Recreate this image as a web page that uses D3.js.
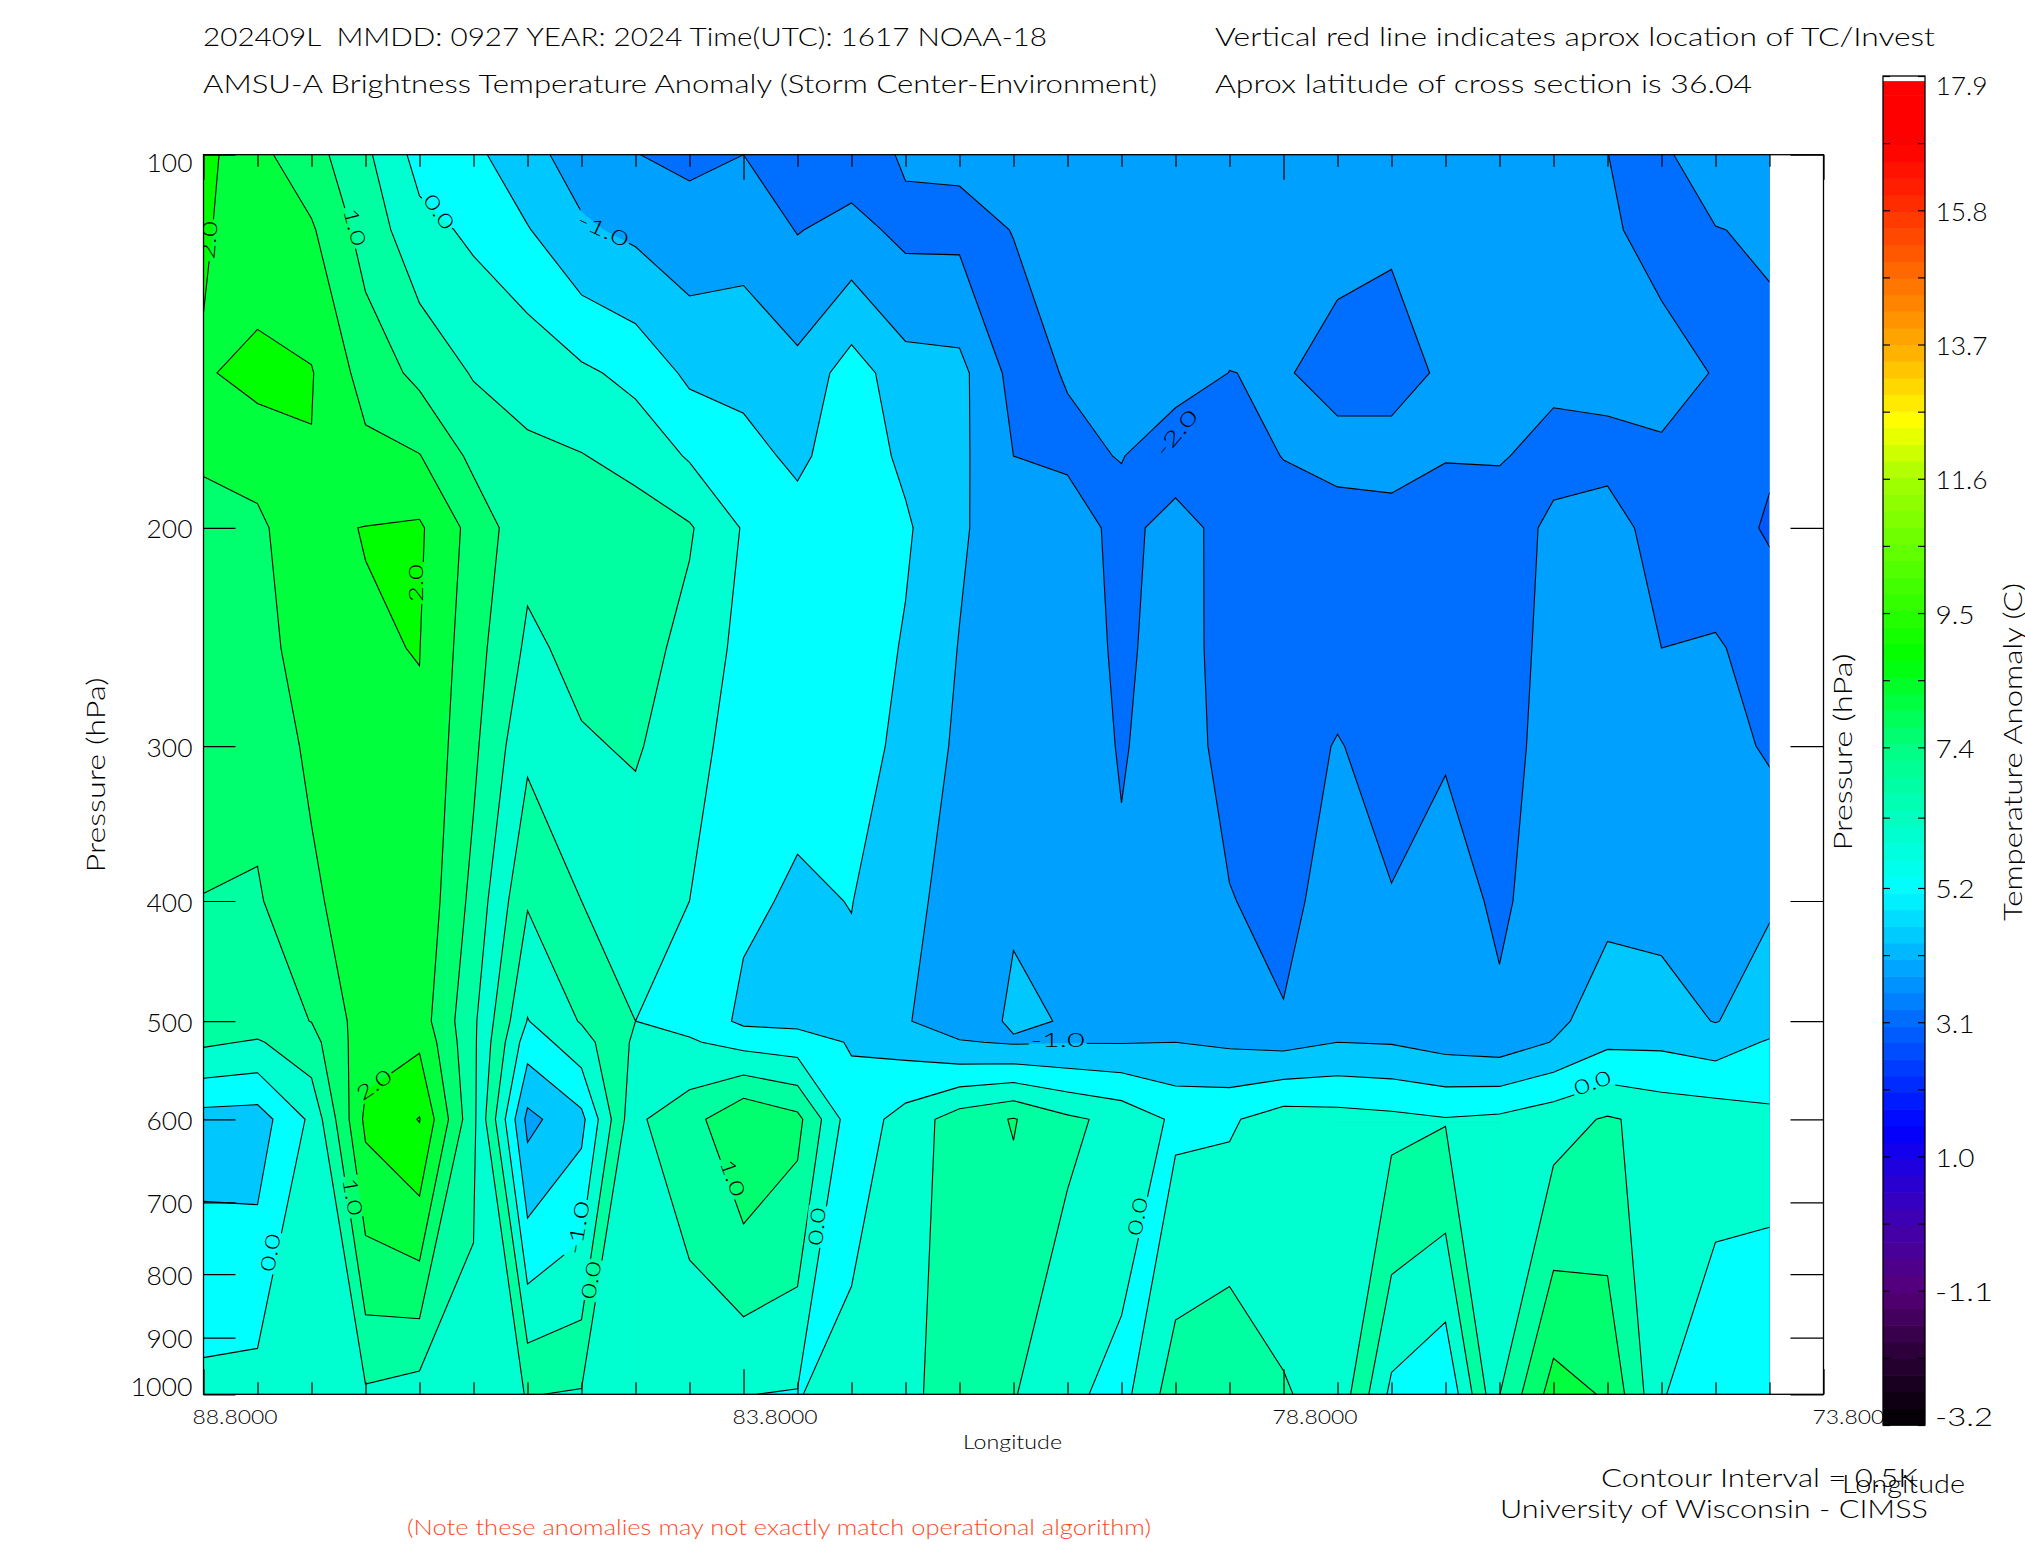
<!DOCTYPE html>
<html>
<head>
<meta charset="utf-8">
<style>
html,body{margin:0;padding:0;background:#fff;overflow:hidden}
svg{display:block}
text{font-family:"Lato","Roboto","Liberation Sans",sans-serif;font-weight:300;fill:#000}
</style>
<script src="https://cdnjs.cloudflare.com/ajax/libs/d3/7.8.5/d3.min.js"></script>
</head>
<body>
<svg id="c" width="2025" height="1550"></svg>
<script>
// ---------- data ----------
const longitudes = [88.8,88.3,87.8,87.3,86.8,86.3,85.8,85.3,84.8,84.3,83.8,83.3,82.8,82.3,81.8,81.3,80.8,80.3,79.8,79.3,78.8,78.3,77.8,77.3,76.8,76.3,75.8,75.3,74.8,74.3];
const pressures  = [100,115,150,175,200,250,300,400,500,520,600,1000];
// anomaly (K) : one list per longitude, top (100 hPa) to bottom (1000 hPa)
const anomaly = [
 [2.15,2.06,1.95,1.53,1.42,1.28,1.17,.99,.93,.58,-.71,.14],
 [1.63,1.7,2.15,1.72,1.38,1.27,1.15,.95,.78,.45,-.74,.19],
 [1.19,1.56,2.03,1.98,1.94,1.8,1.6,1.39,1.01,.82,.10,.3],
 [.6,.8,1.3,1.63,2.01,1.97,1.93,1.85,1.75,1.82,2.11,.42],
 [-.18,.16,.87,1.52,2.07,2.01,1.95,1.9,1.75,1.92,2.52,.26],
 [-.38,-.09,.46,.88,1.32,1.2,1.1,.85,.6,.6,.62,.31],
 [-.85,-.47,.38,.56,.65,.41,.1,-.46,-1.02,-1.27,-2.14,-.02],
 [-1.21,-.93,.09,.52,.85,.63,.45,0,-.46,-.7,-1.64,.045],
 [-1.49,-1.1,-.14,.33,.75,.7,.55,.2,0,.09,.42,.2],
 [-1.6,-1.3,-.6,-.05,.55,.35,.22,0,-.15,.05,.8,.13],
 [-1.5,-1.2,-.64,-.34,-.04,-.15,-.28,-.42,-.6,-.17,1.47,.01],
 [-1.75,-1.52,-.86,-.6,-.3,-.33,-.38,-.56,-.64,-.26,1.14,-.03],
 [-1.75,-1.35,-.26,-.22,-.2,-.18,-.2,-.49,-.6,-.54,-.3,.25],
 [-1.44,-1.62,-.8,-.6,-.43,-.55,-.68,-.78,-.96,-.7,.2,.4],
 [-1.42,-1.62,-.85,-.88,-.925,-1.02,-1.08,-1.3,-1.3,-.96,.75,.7],
 [-1.2,-1.49,-1.67,-1.5,-1.32,-1.25,-1.2,-1.05,-.92,-1.05,1.03,.53],
 [-1.3,-1.35,-1.47,-1.6,-1.2,-1.15,-1.12,-1.08,-1.03,-1.02,.6,.12],
 [-1.3,-1.33,-1.36,-1.48,-1.68,-1.62,-1.55,-1.4,-1.25,-1.02,.35,-.18],
 [-1.3,-1.3,-1.3,-1.8,-1.27,-1.22,-1.2,-1.15,-1.1,-1.0,-.09,.78],
 [-1.3,-1.25,-1.505,-1.65,-1.71,-1.75,-1.7,-1.47,-1.2,-1.08,-.066,.97],
 [-1.25,-1.25,-1.47,-1.49,-1.68,-1.72,-1.72,-1.7,-1.45,-1.15,.25,.53],
 [-1.2,-1.4,-1.62,-1.38,-1.67,-1.7,-1.47,-1.2,-1.1,-1.0,.2,.36],
 [-1.2,-1.46,-1.62,-1.38,-1.62,-1.75,-1.7,-1.47,-1.2,-1.03,.13,-1.125],
 [-1.2,-1.25,-1.45,-1.48,-1.7,-1.72,-1.55,-1.25,-1.15,-1.18,.03,-1.47],
 [-1.2,-1.22,-1.3,-1.47,-1.7,-1.8,-1.75,-1.6,-1.4,-1.25,.1,.49],
 [-1.25,-1.27,-1.42,-1.62,-1.42,-1.3,-1.25,-1.2,-1.1,-.98,.31,1.73],
 [-1.499,-1.45,-1.42,-1.58,-1.38,-1.3,-1.25,-1.1,-.78,-.6,.55,1.44],
 [-1.55,-1.62,-1.36,-1.56,-1.62,-1.5,-1.35,-1.15,-.8,-.6,.35,.05],
 [-1.33,-1.51,-1.52,-1.75,-1.8,-1.45,-1.32,-1.2,-1.02,-.74,.3,-.48],
 [-1.25,-1.46,-1.58,-1.95,-2.05,-1.7,-1.56,-1.05,-.75,-.45,.12,-.24]
];
const levels      = [-2,-1.5,-1,-.5,0,.5,1,1.5,2,2.5];
const bandColors  = ["#0058ff","#006eff","#00a0ff","#00c8ff","#00ffff","#00ffd0","#00ffa0","#00ff6e","#00ff3c","#00ff00","#00ff00"];
// closed lows are painted by the source plot with shifted colours
const lowColors   = ["#00a0ff","#00c8ff","#00ffff","#00ffd0","#00ffa0","#00ffd0","#00ffa0","#00ff6e","#00ff3c","#00ff00","#00ff00"];
const lowLons     = [[86.55,84.8],[78.3,76.8]];
const lowPres     = [[281,1000],[604,1000]];
const pressureTicks = [100,200,300,400,500,600,700,800,900,1000];
const axisLons    = [88.8,88.3,87.8,87.3,86.8,86.3,85.8,85.3,84.8,84.3,83.8,83.3,82.8,82.3,81.8,81.3,80.8,80.3,79.8,79.3,78.8,78.3,77.8,77.3,76.8,76.3,75.8,75.3,74.8,74.3,73.8];
const majorLons   = [88.8,83.8,78.8,73.8];
const labelText   = ["2.0","1.0","0.0","-1.0","-2.0","2.0","2.0","1.0","0.0","-1.0","0.0","1.0","0.0","-1.0","0.0","0.0"];
const labelLon    = [88.75,87.4,86.62,85.10,79.79,86.83,87.22,87.42,88.18,85.33,85.21,83.90,83.12,80.89,80.15,75.94];
const labelPres   = [117.2,114.4,111.2,115,167.7,221.6,562.7,692.8,768.7,734,808.8,669,732.3,517.8,718.7,560.8];
const labelAngle  = [-85,75,55,25,-50,-90,-35,80,-80,-80,-80,70,-85,0,-80,-20];
const barTicks    = [17.9,16.85,15.8,14.75,13.7,12.65,11.6,10.55,9.5,8.45,7.4,6.3,5.2,4.15,3.1,2.05,1.0,-.05,-1.1,-2.15,-3.2];
const barLabelled = [17.9,15.8,13.7,11.6,9.5,7.4,5.2,3.1,1.0,-1.1,-3.2];
const barStops    = [-3.2,-2.1,-1.1,0,1,1.44,3.1,5.2,7.4,8.8,11.6,12.5,13.7,15.8,16.8,17.82];
const barColors   = ["#000000","#2a0036","#560078","#4000b0","#1800e8","#0000ff","#0068ff","#00ffff","#00ff82","#00ff00","#a4ff00","#ffff00","#ffaa00","#ff3200","#ff0000","#ff0000"];

// ---------- scales ----------
const svg = d3.select("#c");
const x = d3.scaleLinear().domain([88.8,73.8]).range([203.5,1823.5]);
const y = d3.scaleLog().domain([100,1000]).range([154.7,1394.3]);
const colX = d3.scaleLinear().domain([0,longitudes.length-1]).range([x(longitudes[0]),x(longitudes[longitudes.length-1])]);
// values vary linearly in pressure between two listed levels
const rowP = d3.scaleLinear().domain(d3.range(pressures.length)).range(pressures);

// ---------- contours : grid padded by one cell so that the lines close outside the clip ----------
const nc = longitudes.length, nr = pressures.length;
const W = nc+2, H = nr+2, grid = new Array(W*H);
for(let j=0;j<H;j++)for(let i=0;i<W;i++){
  const c = Math.max(0,Math.min(nc-1,i-1)), r = Math.max(0,Math.min(nr-1,j-1));
  grid[j*W+i] = anomaly[c][r];
}
const gen = d3.contours().size([W,H]).smooth(true);
const px = d=>colX(d-1.5), py = d=>y(rowP(d-1.5));
const geo = d3.geoPath();
const contourD = level=>{
  const g = gen.contour(grid,level);
  return geo({type:"MultiPolygon",coordinates:g.coordinates.map(poly=>poly.map(ring=>ring.map(p=>[px(p[0]),py(p[1])])))});
};
const paths = levels.map(contourD);

const defs = svg.append("defs");
const dataL = x(longitudes[0]), dataR = x(longitudes[nc-1]);
defs.append("clipPath").attr("id","dataClip").append("rect")
  .attr("x",dataL).attr("y",y(100)).attr("width",dataR-dataL).attr("height",y(1000)-y(100));
lowLons.forEach((l,k)=>{
  defs.append("clipPath").attr("id","low"+k).append("rect")
   .attr("x",x(l[0])).attr("y",y(lowPres[k][0])).attr("width",x(l[1])-x(l[0])).attr("height",y(lowPres[k][1])-y(lowPres[k][0]));
});
const plot = svg.append("g").attr("clip-path","url(#dataClip)");
function paintBands(g,colors){
  g.append("rect").attr("x",dataL-5).attr("y",y(100)-5).attr("width",dataR-dataL+10).attr("height",y(1000)-y(100)+10).attr("fill",colors[0]);
  g.selectAll("path.band").data(levels).join("path").attr("class","band")
   .attr("d",(d,i)=>paths[i]).attr("fill",(d,i)=>colors[i+1]).attr("stroke",(d,i)=>colors[i+1]).attr("stroke-width",.4);
}
paintBands(plot.append("g"),bandColors);
lowLons.forEach((l,k)=>paintBands(plot.append("g").attr("clip-path",`url(#low${k})`),lowColors));

// label gaps cut out of the contour lines
const mask = defs.append("mask").attr("id","gaps").attr("maskUnits","userSpaceOnUse")
  .attr("x",0).attr("y",0).attr("width",2025).attr("height",1550);
mask.append("rect").attr("width",2025).attr("height",1550).attr("fill","#fff");
labelText.forEach((t,i)=>{
  const w = t.length>3?58:42;
  mask.append("rect").attr("x",-w/2).attr("y",-10).attr("width",w).attr("height",20).attr("fill","#000")
    .attr("transform",`translate(${x(labelLon[i])},${y(labelPres[i])}) rotate(${labelAngle[i]})`);
});
plot.append("g").attr("mask","url(#gaps)").selectAll("path.line").data(levels).join("path").attr("class","line")
  .attr("d",(d,i)=>paths[i]).attr("fill","none").attr("stroke","#000").attr("stroke-width",1.1);

plot.append("g").selectAll("text").data(labelText).join("text")
  .text(d=>d).attr("text-anchor","middle").attr("font-size",20)
  .attr("textLength",d=>d.length>3?54:38).attr("lengthAdjust","spacingAndGlyphs")
  .attr("transform",(d,i)=>`translate(${x(labelLon[i])},${y(labelPres[i])}) rotate(${labelAngle[i]}) translate(0,7)`);

// ---------- axes ----------
const fmtAxis = g=>{g.select(".domain").remove();g.selectAll("line").attr("stroke","#000").attr("stroke-width",1.2);g.selectAll("text").attr("fill","#000").attr("font-family",null);};
svg.append("g").attr("transform",`translate(${x(88.8)},0)`)
 .call(d3.axisLeft(y).tickValues(pressureTicks).tickFormat(d3.format("d")).tickSize(-32).tickPadding(0))
 .call(fmtAxis)
 .call(g=>g.selectAll("text").attr("x",-11).attr("font-size",25).attr("text-anchor","end")
    .attr("dy",d=>d===100?"17":d===1000?"1":"10").attr("textLength",d=>d===1000?62:46).attr("lengthAdjust","spacingAndGlyphs"));
svg.append("g").attr("transform",`translate(${x(73.8)},0)`)
 .call(d3.axisRight(y).tickValues(pressureTicks).tickFormat("").tickSize(-33)).call(fmtAxis);
svg.append("g").attr("transform",`translate(0,${y(1000)})`)
 .call(d3.axisBottom(x).tickValues(axisLons).tickFormat(d=>majorLons.includes(d)?d.toFixed(4):"").tickSize(-12))
 .call(fmtAxis)
 .call(g=>g.selectAll(".tick").filter(d=>majorLons.includes(d)).select("line").attr("y2",-25))
 .call(g=>g.selectAll("text").attr("x",31).attr("y",30).attr("dy",0).attr("font-size",20).attr("textLength",85).attr("lengthAdjust","spacingAndGlyphs"));
svg.append("g").attr("transform",`translate(0,${y(100)})`)
 .call(d3.axisTop(x).tickValues(axisLons).tickFormat("").tickSize(-12))
 .call(fmtAxis)
 .call(g=>g.selectAll(".tick").filter(d=>majorLons.includes(d)).select("line").attr("y2",25));
svg.append("rect").attr("x",x(88.8)).attr("y",y(100)).attr("width",x(73.8)-x(88.8)).attr("height",y(1000)-y(100))
  .attr("fill","none").attr("stroke","#000").attr("stroke-width",1.3);

// ---------- colour bar ----------
const bar = d3.scaleLinear().domain([-3.2,17.9]).range([1425,76]);
const barColor = d3.scaleLinear().domain(barStops).range(barColors).interpolate(d3.interpolateRgb);
const barX0 = 1883, barX1 = 1925, barTop = 17.82;
svg.append("rect").attr("x",barX0).attr("y",76).attr("width",barX1-barX0).attr("height",1349).attr("fill","#fff");
const step = .26;
svg.append("g").selectAll("rect").data(d3.range(-3.2,barTop-step/2,step)).join("rect")
  .attr("x",barX0).attr("width",barX1-barX0)
  .attr("y",d=>bar(Math.min(d+step,barTop))).attr("height",d=>bar(d)-bar(Math.min(d+step,barTop))+.6)
  .attr("fill",d=>barColor(d+step/2));
svg.append("g").attr("transform",`translate(${barX1},0)`)
 .call(d3.axisRight(bar).tickValues(barTicks).tickFormat(d=>barLabelled.includes(d)?d.toFixed(1):"").tickSize(-7))
 .call(fmtAxis)
 .call(g=>g.selectAll("text").attr("x",d=>d<0?10:10.5).attr("font-size",25).attr("text-anchor","start")
    .attr("dy",d=>d===17.9?"18":d===-3.2?"0":"10")
    .attr("textLength",d=>d<0?58:(d<10?39:52)).attr("lengthAdjust","spacingAndGlyphs"));
svg.append("g").attr("transform",`translate(${barX0},0)`)
 .call(d3.axisLeft(bar).tickValues(barTicks).tickFormat("").tickSize(-7)).call(fmtAxis);
svg.append("rect").attr("x",barX0).attr("y",76).attr("width",barX1-barX0).attr("height",1349).attr("fill","none").attr("stroke","#000").attr("stroke-width",1.3);

// ---------- text ----------
function T(str,xp,yp,size,len,opt={}){
  const t = svg.append("text").text(str).attr("font-size",size).attr("textLength",len).attr("lengthAdjust","spacingAndGlyphs");
  if(opt.rot!==undefined) t.attr("text-anchor","middle").attr("transform",`translate(${xp},${yp}) rotate(${opt.rot})`);
  else t.attr("x",xp).attr("y",yp);
  if(opt.fill) t.style("fill",opt.fill);
  return t;
}
T("202409L  MMDD: 0927 YEAR: 2024 Time(UTC): 1617 NOAA-18",203,46,25,844).style("white-space","pre");
T("Vertical red line indicates aprox location of TC/Invest",1215,46,25,720);
T("AMSU-A Brightness Temperature Anomaly (Storm Center-Environment)",203,93,25,954);
T("Aprox latitude of cross section is 36.04",1215,93,25,537);
T("Pressure (hPa)",105,775,25,195,{rot:-90});
T("Pressure (hPa)",1852,752,25,197,{rot:-90});
T("Temperature Anomaly (C)",2022,752,25,338,{rot:-90});
T("Longitude",963,1449,20,99);
T("Contour Interval = 0.5K",1601,1487,25,317);
T("Longitude",1842,1493,25,123);
T("University of Wisconsin - CIMSS",1500,1518,25,428);
T("(Note these anomalies may not exactly match operational algorithm)",407,1535,21,744,{fill:"#ff4a1e"});
</script>
</body>
</html>
